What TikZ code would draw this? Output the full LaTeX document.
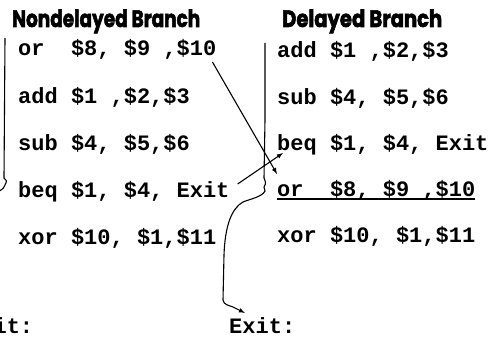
\documentclass[tikz,border=0pt]{standalone}
\usepackage{fontspec}
\setmonofont{Liberation Mono}
\newfontfamily\headfont{Poppins}[BoldFeatures={FakeBold=2.5}]
\usetikzlibrary{arrows.meta}
\tikzset{>=latex}
\tikzset{path-line/.style={line width=1.1pt}}
\tikzset{code-line/.style={font=\ttfamily\bfseries\fontsize{22}{26}\selectfont, inner sep=0, anchor=base west}}
\tikzset{head-line/.style={inner sep=0, anchor=base west}}
\newcommand{\headtext}[2]{\resizebox{#1}{17.5pt}{\headfont\bfseries #2}}

\begin{document}
\begin{tikzpicture}[x=1pt, y=-1pt]
    \useasboundingbox (0,0) rectangle (492,337);

    % nondelayed branch
    \node[head-line] (nhead) at (12,27) {\headtext{188pt}{Nondelayed Branch}};
    \node[code-line] (nor) at (18,56) {or\ \ \$8, \$9 ,\$10};
    \node[code-line] (nadd) at ([yshift=-47pt]nor.base west) {add \$1 ,\$2,\$3};
    \node[code-line] (nsub) at ([yshift=-47pt]nadd.base west) {sub \$4, \$5,\$6};
    \node[code-line] (nbeq) at ([yshift=-47pt]nsub.base west) {beq \$1, \$4, Exit};
    \node[code-line] (nxor) at ([yshift=-47pt]nbeq.base west) {xor \$10, \$1,\$11};
    \node[code-line] (nexit) at (-33,333) {Exit:};

    % delayed branch
    \node[head-line] (dhead) at (282,27) {\headtext{160pt}{Delayed Branch}};
    \node[code-line] (dadd) at (277,58) {add \$1 ,\$2,\$3};
    \node[code-line] (dsub) at ([yshift=-46pt]dadd.base west) {sub \$4, \$5,\$6};
    \node[code-line] (dbeq) at ([yshift=-46pt]dsub.base west) {beq \$1, \$4, Exit};
    \node[code-line] (dor) at ([yshift=-46pt]dbeq.base west) {or\ \ \$8, \$9 ,\$10};
    \node[code-line] (dxor) at ([yshift=-46pt]dor.base west) {xor \$10, \$1,\$11};
    \node[code-line] (dexit) at (229,333) {Exit:};
    \draw[path-line] ([yshift=-3pt]dor.base west) -- ([yshift=-3pt]dor.base east);

    % moving the or into the slot
    \draw[->, path-line] ([xshift=-4pt,yshift=-6pt]nor.base east) -- ([yshift=22pt]dor.base west);
    \draw[->, path-line] ([xshift=8pt,yshift=13pt]nbeq.base east) -- ([xshift=6pt,yshift=-3pt]dbeq.base west);

    % control flow
    \coordinate (ntop) at (5,38);
    \coordinate (noff) at (-2,192);
    \draw[path-line] (ntop) -- (4,178) .. controls (7,181) .. (5,185) .. controls (4,188) .. (noff);

    \coordinate (dtop) at (265,43);
    \draw[->, path-line] (dtop) -- (265,120) -- (264,178) .. controls (266,183) .. (264,187) -- (265,191)
        .. controls (262,197) and (250,199) .. (243,202) .. controls (232,208) and (225,225) .. (224,255)
        -- (223,300) .. controls (224,305) and (228,305) .. (233,307) -- ([xshift=16pt,yshift=20pt]dexit.base west);
\end{tikzpicture}
\end{document}
